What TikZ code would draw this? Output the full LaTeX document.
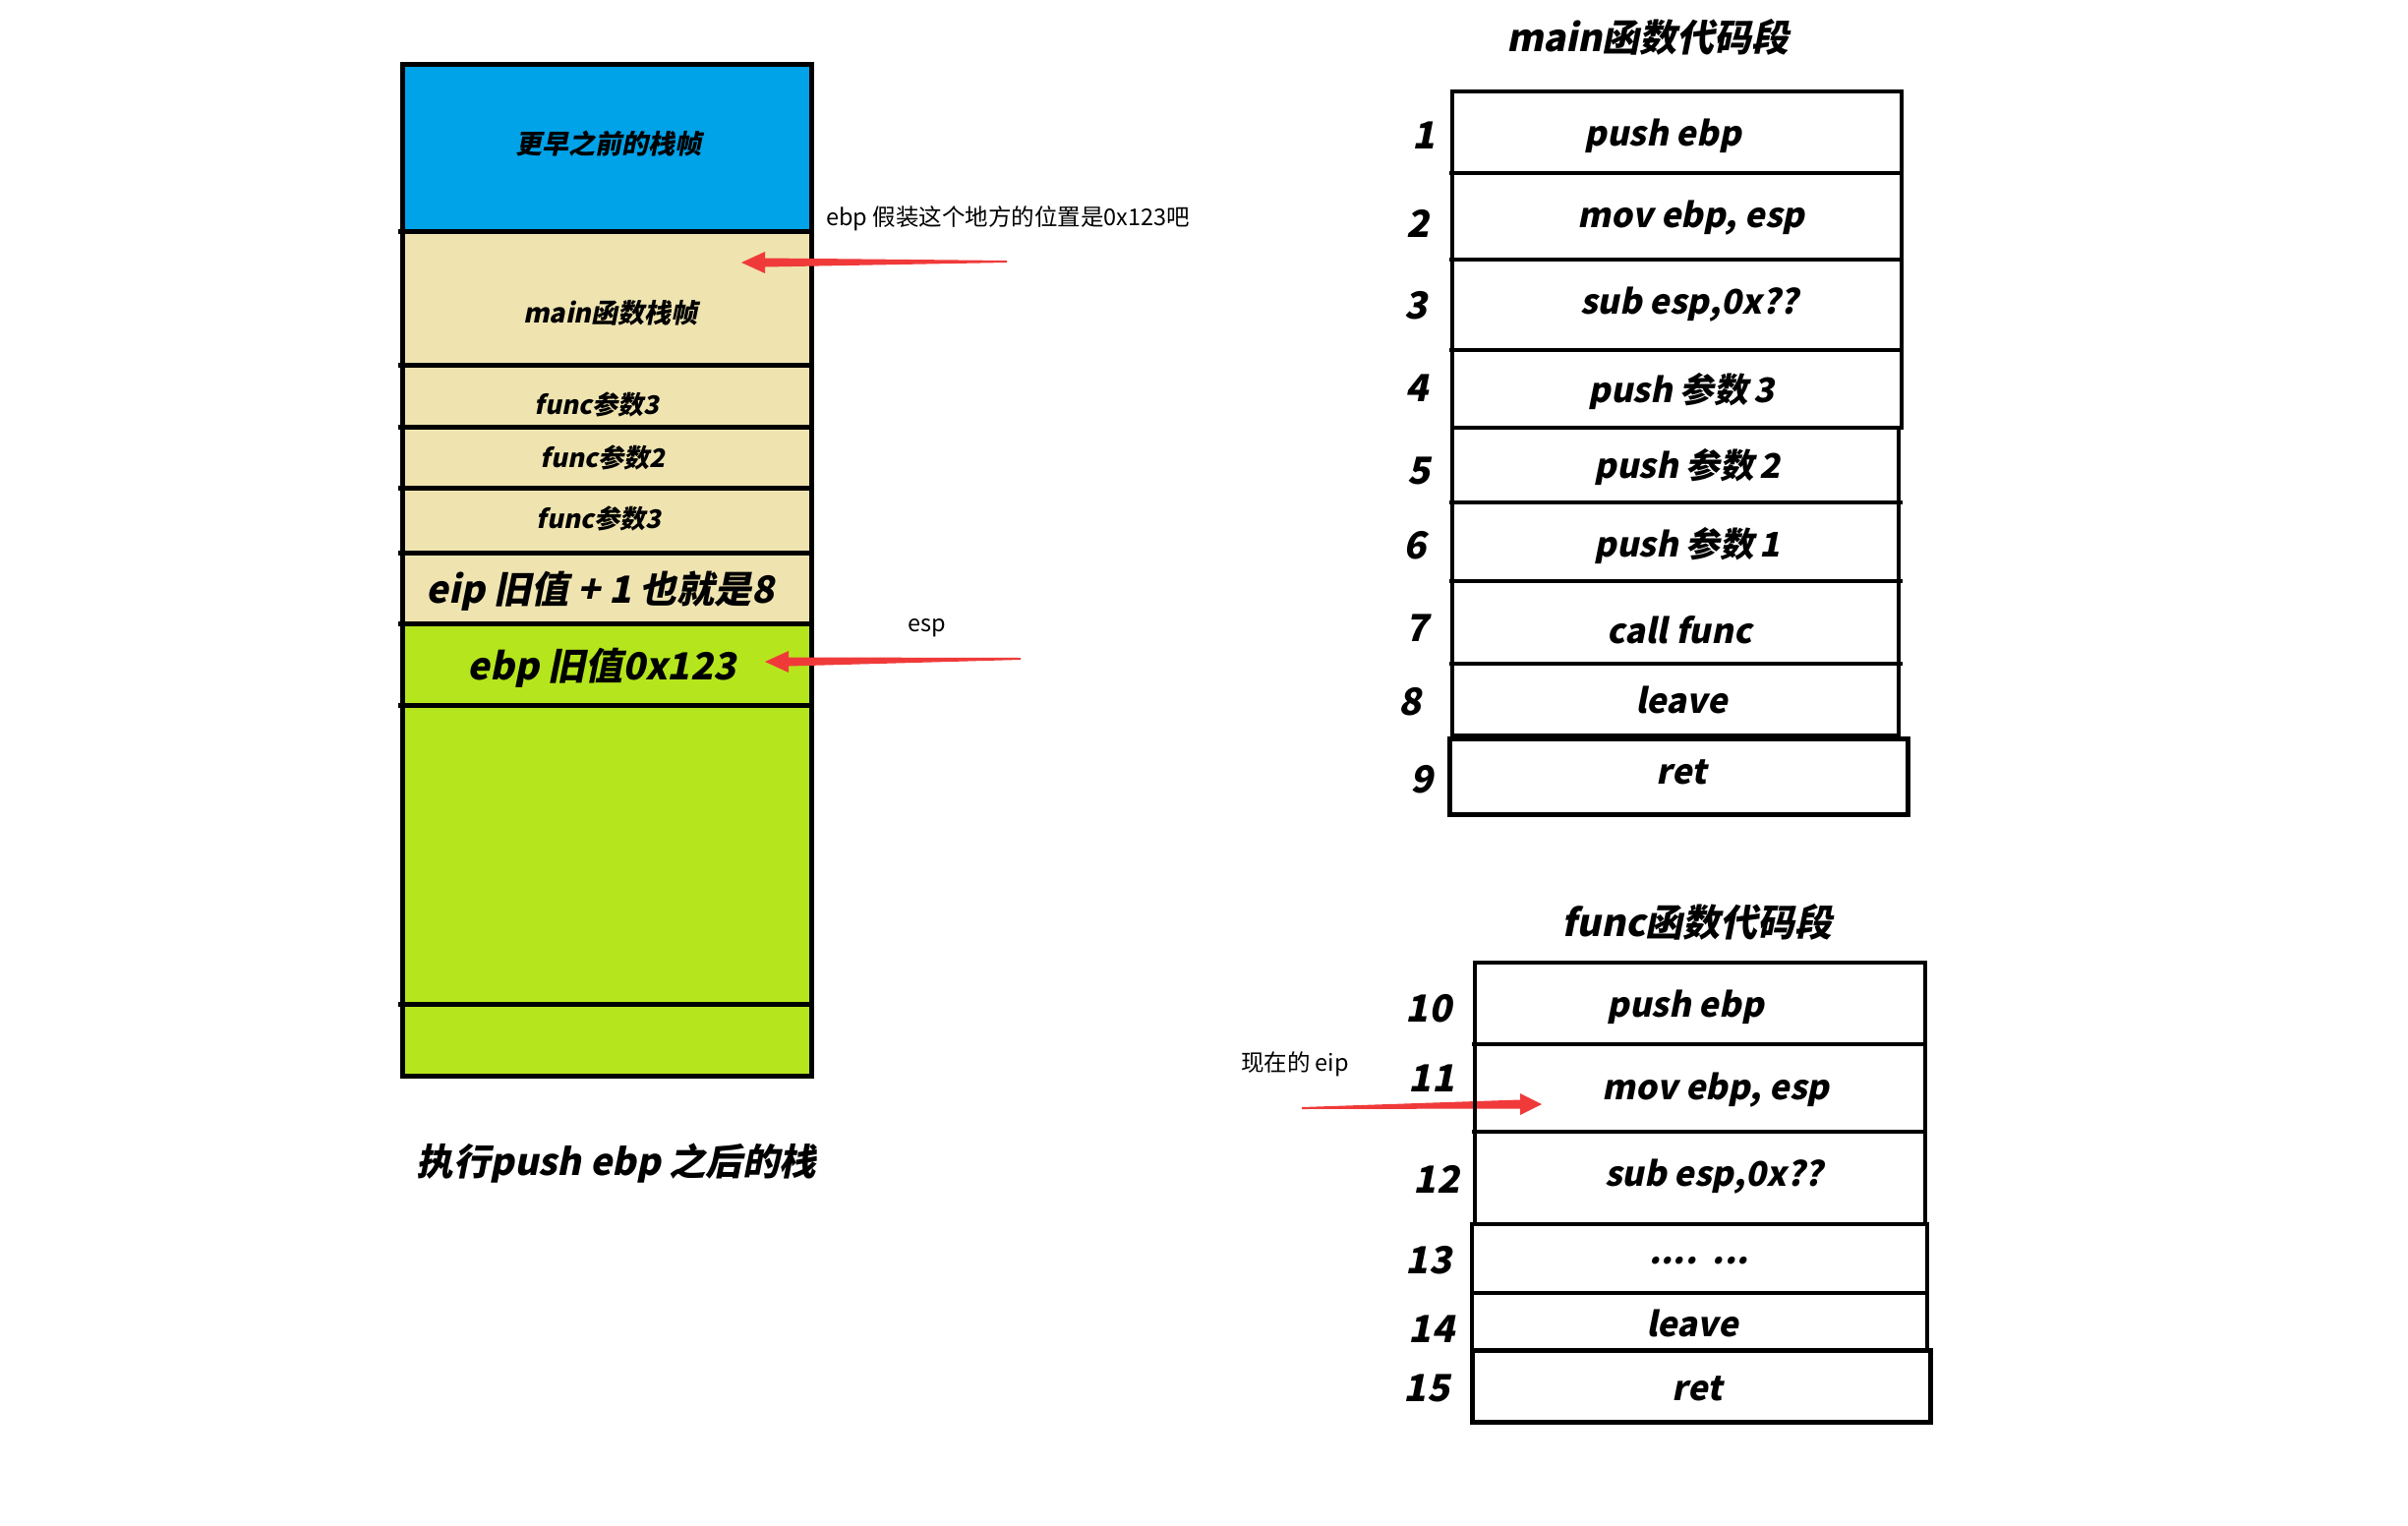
\documentclass[tikz,border=0pt]{standalone}
\usepackage{fontspec}
\usetikzlibrary{calc}
\newfontfamily\cjk{Noto Sans CJK SC}
\newfontfamily\cjkslant{Noto Sans CJK SC}[FakeSlant=0.2]
\definecolor{stackblue}{RGB}{0,162,232}
\definecolor{stacktan}{RGB}{239,228,176}
\definecolor{stacklime}{RGB}{181,230,29}
\definecolor{arrowred}{RGB}{240,58,58}
\begin{document}
\begin{tikzpicture}[x=1pt,y=-1pt,
  box/.style={line width=5pt},
  codebox/.style={line width=4.5pt},
  bi/.style={inner sep=0pt,font=\cjkslant\bfseries\fontsize{#1pt}{#1pt}\selectfont},
  note/.style={inner sep=0pt,font=\cjk\fontsize{23.5pt}{23.5pt}\selectfont},
  redarrow/.style={fill=arrowred}]
 \fill[white] (0,0) rectangle (2449,1552);
 \useasboundingbox (0,0) rectangle (2449,1552);
 % stack
 \fill[stackblue] (409,66) rectangle (825,235);
 \fill[stacktan] (409,235) rectangle (825,634);
 \fill[stacklime] (409,634) rectangle (825,1094);
 \draw[box] (409,66) rectangle (825,1094);
 \foreach \y in {235,371,434,496,562,634,717,1021}
   \draw[box] (405,\y) -- (827,\y);
 \node[bi=27] (older) at (619,146) {更早之前的栈帧};
 \node[bi=27] (mainframe) at (621,318) {main函数栈帧};
 \node[bi=26] (arg3) at (607,411) {func参数3};
 \node[bi=26] (arg2) at (613,465) {func参数2};
 \node[bi=26] (arg1) at (609,527) {func参数3};
 \node[bi=38] (oldeip) at (611,601) {eip 旧值 + 1 也就是8};
 \node[bi=38] (oldebp) at (612,679) {ebp 旧值0x123};
 \node[bi=37.5] (caption) at (627,1183) {执行push ebp 之后的栈};
 % notes and arrows
 \node[note,anchor=west] (ebpnote) at (840,222) {ebp 假装这个地方的位置是0x123吧};
 \node[note] (espnote) at (943,639) {esp};
 \node[note] (eipnote) at (1317,1082) {现在的 eip};
 \coordinate (ebpTail) at (1024,266);
 \coordinate (ebpHead) at (754,267);
 \coordinate (espTail) at (1038,670);
 \coordinate (espHead) at (778,673);
 \coordinate (eipTail) at (1324,1127);
 \coordinate (eipHead) at (1568,1123);
 \fill[redarrow] ($(ebpTail)+(0,-1)$) -- ($(ebpHead)+(24,-4.5)$) -- ($(ebpHead)+(24,-11)$) -- (ebpHead)
   -- ($(ebpHead)+(24,11)$) -- ($(ebpHead)+(24,4.5)$) -- ($(ebpTail)+(0,1)$) -- cycle;
 \fill[redarrow] ($(espTail)+(0,-1)$) -- ($(espHead)+(24,-4.5)$) -- ($(espHead)+(24,-11)$) -- (espHead)
   -- ($(espHead)+(24,11)$) -- ($(espHead)+(24,4.5)$) -- ($(espTail)+(0,1)$) -- cycle;
 \fill[redarrow] ($(eipTail)+(0,-1)$) -- ($(eipHead)+(-22,-4.5)$) -- ($(eipHead)+(-22,-11)$) -- (eipHead)
   -- ($(eipHead)+(-22,11)$) -- ($(eipHead)+(-22,4.5)$) -- ($(eipTail)+(0,1)$) -- cycle;
 % main code
 \node[bi=38] (maintitle) at (1676,38) {main函数代码段};
 \draw[codebox] (1477,93) rectangle (1934,435);
 \draw[codebox] (1477,435) rectangle (1931,748);
 \draw[box] (1474,751) rectangle (1940,828);
 \foreach \y in {176,264,356,511,591,675}
   \draw[codebox] (1474,\y) -- (1935,\y);
 \foreach \i/\nx/\ny/\cx/\cy/\txt in {
   1/1448/138/1691/138/push ebp,
   2/1442/227/1720/222/{mov ebp, esp},
   3/1440/311/1718/310/{sub esp,0x??},
   4/1441/395/1710/398/push 参数\,3,
   5/1443/479/1716/475/push 参数\,2,
   6/1439/555/1716/555/push 参数\,1,
   7/1441/639/1708/641/call func,
   8/1434/714/1710/712/leave,
   9/1446/793/1710/785/ret}
 {
   \node[bi=38] (num\i) at (\nx,\ny) {\i};
   \node[bi=34.5] (code\i) at (\cx,\cy) {\txt};
 }
 % func code
 \node[bi=38] (functitle) at (1726,938) {func函数代码段};
 \draw[codebox] (1500,979) rectangle (1958,1245);
 \draw[codebox] (1497,1245) rectangle (1960,1373);
 \draw[box] (1497,1373) rectangle (1963,1446);
 \foreach \y in {1062,1151,1315}
   \draw[codebox] (1497,\y) -- (1960,\y);
 \foreach \i/\nx/\ny/\cx/\cy/\txt in {
   10/1453/1026/1714/1024/push ebp,
   11/1456/1097/1745/1109/{mov ebp, esp},
   12/1461/1199/1743/1197/{sub esp,0x??},
   13/1453/1282/1728/1282/{....\ \ ...},
   14/1456/1352/1721/1346/leave,
   15/1451/1412/1726/1412/ret}
 {
   \node[bi=38] (num\i) at (\nx,\ny) {\i};
   \node[bi=34.5] (code\i) at (\cx,\cy) {\txt};
 }
\end{tikzpicture}
\end{document}
